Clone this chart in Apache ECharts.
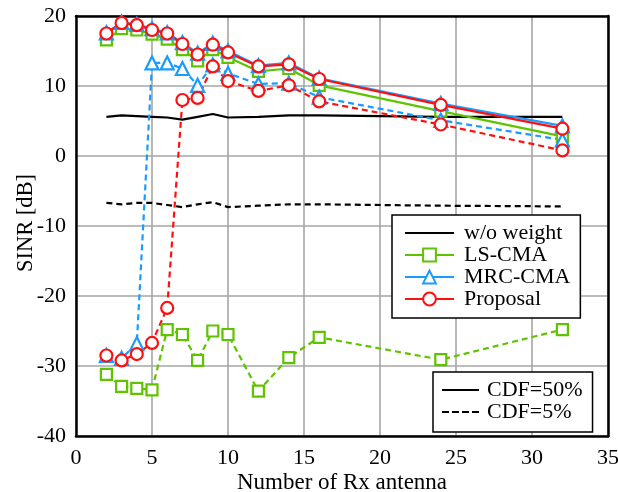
<!DOCTYPE html>
<html><head><meta charset="utf-8">
<script src="https://cdn.jsdelivr.net/npm/echarts@6/dist/echarts.min.js"></script>
<style>html,body{margin:0;padding:0;background:#fff}#c{width:618px;height:492px}</style>
</head><body><div id="c"></div>
<script>
const antennas = [2,3,4,5,6,7,8,9,10,12,14,16,24,32];
const woWeight50 = [5.6,5.8,5.7,5.6,5.5,5.2,5.6,6.0,5.5,5.6,5.8,5.8,5.6,5.6];
const woWeight5  = [-6.7,-6.9,-6.7,-6.7,-7.0,-7.3,-6.9,-6.6,-7.3,-7.1,-6.9,-6.9,-7.1,-7.2];
const lsCma50  = [16.6,18.2,18.0,17.4,16.7,15.2,13.6,15.2,14.1,12.1,12.5,10.1,6.4,2.8];
const lsCma5   = [-31.2,-32.9,-33.2,-33.4,-24.8,-25.5,-29.2,-25.0,-25.5,-33.6,-28.8,-25.9,-29.1,-24.8];
const mrcCma50 = [17.6,19.1,18.8,18.2,17.6,16.2,14.7,16.1,15.0,12.9,13.3,11.1,7.5,4.3];
const mrcCma5  = [-28.5,-28.9,-26.8,13.3,13.3,12.5,10.1,13.0,11.8,10.3,10.4,8.4,5.1,2.3];
const proposal50 = [17.5,19.0,18.7,18.0,17.5,16.0,14.5,15.9,14.8,12.8,13.1,11.0,7.3,3.9];
const proposal5  = [-28.5,-29.2,-28.3,-26.7,-21.7,8.0,8.3,12.8,10.7,9.3,10.1,7.8,4.5,0.8];
const xTicks = [0,5,10,15,20,25,30,35];
const yTicks = [-40,-30,-20,-10,0,10,20];

const FONT = 'Liberation Serif';
const GREEN = '#5fc400', BLUE = '#1a9bff', RED = '#ff1010';
const pair = (ys) => antennas.map((x,i)=>[x, ys[i]]);
const dash = [6,4];

function mk(name, ys, color, symbol, size, dashed){
  return {
    name, type:'line', data: pair(ys), symbol: symbol||'none', symbolSize: size||0,
    showSymbol: !!symbol, smooth:false, animation:false,
    lineStyle:{color, width:2.2, type: dashed?dash:'solid'},
    itemStyle: symbol ? {color:'#fff', borderColor:color, borderWidth:2.2} : {color:color},
    emphasis:{disabled:true}, z: 2
  };
}

const series = [
  mk('w/o weight', woWeight50, '#000', null, 0, false),
  mk('wo5', woWeight5, '#000', null, 0, true),
  mk('LS-CMA', lsCma50, GREEN, 'rect', 11, false),
  mk('ls5', lsCma5, GREEN, 'rect', 11, true),
  mk('MRC-CMA', mrcCma50, BLUE, 'triangle', 13, false),
  mk('mrc5', mrcCma5, BLUE, 'triangle', 13, true),
  mk('Proposal', proposal50, RED, 'circle', 12, false),
  mk('prop5', proposal5, RED, 'circle', 12, true),
  {name:'CDF=50%', type:'line', data:[], symbol:'none', lineStyle:{color:'#000', width:2.2, type:'solid'}, itemStyle:{color:'#000'}},
  {name:'CDF=5%', type:'line', data:[], symbol:'none', lineStyle:{color:'#000', width:2.2, type:dash}, itemStyle:{color:'#000'}}
];

const solidIcon = (w) => 'path://M0,0L' + w + ',0L' + w + ',2.2L0,2.2Z';
const dashIcon = 'path://M0,0h7v2.2h-7zM10,0h7v2.2h-7zM20,0h7v2.2h-7zM30,0h7v2.2h-7z';

const lbl = {fontFamily:FONT, fontSize:22, color:'#000'};
const frameAxis = {show:true, onZero:false, lineStyle:{color:'#000', width:2.5}};

const chart = echarts.init(document.getElementById('c'), null, {renderer:'canvas'});
chart.setOption({
  backgroundColor:'#fff',
  animation:false,
  textStyle:{fontFamily:FONT},
  grid:{left:76, right:10, top:16, bottom:56, containLabel:false, outerBoundsMode:'none'},
  xAxis:[{
    type:'value', min:xTicks[0], max:xTicks[xTicks.length-1], interval:5,
    name:'Number of Rx antenna', nameLocation:'middle', nameGap:35, nameMoveOverlap:false,
    nameTextStyle:{fontFamily:FONT, fontSize:23, color:'#000'},
    axisLine:frameAxis, axisTick:{show:false},
    axisLabel:Object.assign({margin:11}, lbl),
    splitLine:{show:true, lineStyle:{color:'#a6a6a6', width:1.6}}
  },{
    type:'value', position:'top', min:xTicks[0], max:xTicks[xTicks.length-1], interval:5,
    axisLine:frameAxis, axisTick:{show:false}, axisLabel:{show:false}, splitLine:{show:false}
  }],
  yAxis:[{
    type:'value', min:yTicks[0], max:yTicks[yTicks.length-1], interval:10,
    name:'SINR [dB]', nameLocation:'middle', nameGap:38, nameMoveOverlap:false,
    nameTextStyle:{fontFamily:FONT, fontSize:22.5, color:'#000', padding:[0,0,0,6]},
    axisLine:frameAxis, axisTick:{show:false},
    axisLabel:Object.assign({margin:10}, lbl),
    splitLine:{show:true, lineStyle:{color:'#a6a6a6', width:1.6}}
  },{
    type:'value', position:'right', min:yTicks[0], max:yTicks[yTicks.length-1], interval:10,
    axisLine:frameAxis, axisTick:{show:false}, axisLabel:{show:false}, splitLine:{show:false}
  }],
  legend:[
    {
      data:[{name:'w/o weight', icon:solidIcon(49)},'LS-CMA','MRC-CMA','Proposal'],
      orient:'vertical', left:392, top:215,
      padding:[7,10,8,12], itemGap:0, itemWidth:49, itemHeight:16,
      backgroundColor:'#fff', borderColor:'#000', borderWidth:1.5, borderRadius:0,
      textStyle:{fontFamily:FONT, fontSize:22, color:'#000', padding:[0,0,0,5]},
      selectedMode:false
    },
    {
      data:[{name:'CDF=50%', icon:solidIcon(37)},{name:'CDF=5%', icon:dashIcon}],
      orient:'vertical', left:433, top:372,
      padding:[7,10,9,9], itemGap:0, itemWidth:37, itemHeight:16,
      backgroundColor:'#fff', borderColor:'#000', borderWidth:1.5, borderRadius:0,
      textStyle:{fontFamily:FONT, fontSize:22, color:'#000', padding:[0,0,0,3]},
      selectedMode:false
    }
  ],
  series
});
</script></body></html>
